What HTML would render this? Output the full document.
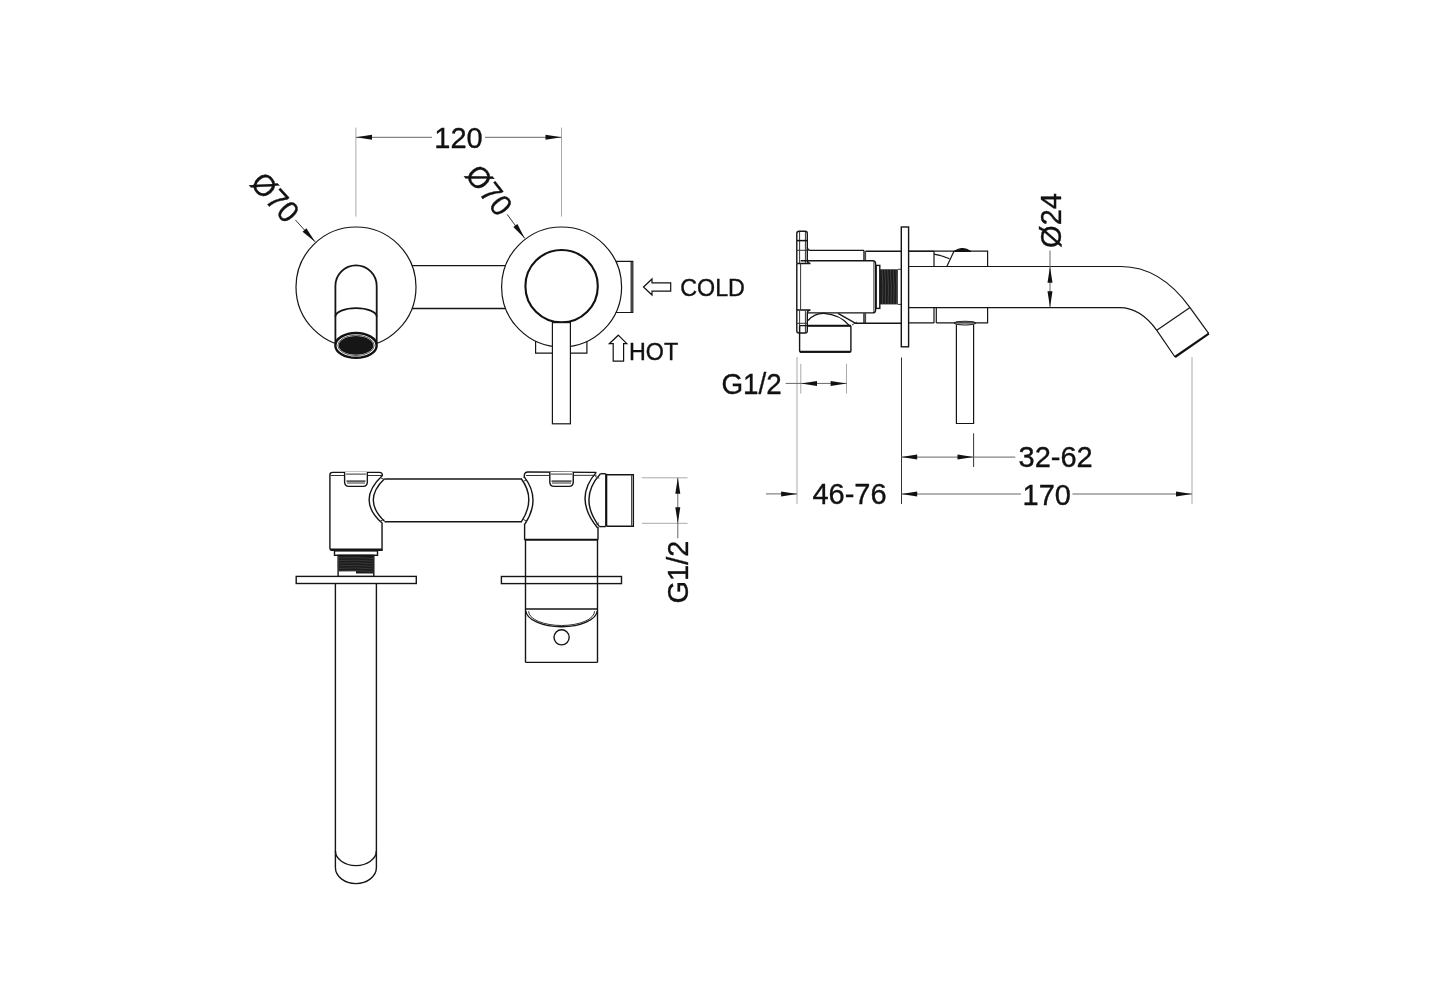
<!DOCTYPE html>
<html><head><meta charset="utf-8"><style>
html,body{margin:0;padding:0;background:#fff;width:1430px;height:1000px;overflow:hidden}
svg{display:block}
text{font-family:"Liberation Sans",sans-serif;fill:#111;stroke:#111;stroke-width:0.35}
svg{filter:grayscale(1)}
.o{stroke:#151515;stroke-width:1.4}
.c{stroke:#151515;stroke-width:1.2}
.t{stroke:#333;stroke-width:1}
.k{stroke:#333;stroke-width:1}
.dm{stroke:#666;stroke-width:1}
.d{stroke:#aaa;stroke-width:1}
</style></head><body>
<svg width="1430" height="1000" viewBox="0 0 1430 1000">
<rect width="1430" height="1000" fill="#fff"/>
<g fill="none">
<line x1="355.9" y1="127.6" x2="355.9" y2="216.6" class="d"/>
<line x1="561.5" y1="127.6" x2="561.5" y2="216.6" class="d"/>
<line x1="356" y1="137.3" x2="432" y2="137.3" class="dm"/>
<line x1="485" y1="137.3" x2="561.5" y2="137.3" class="dm"/>
<polygon points="356.0,137.3 372.0,134.8 372.0,139.8" fill="#111"/>
<polygon points="561.5,137.3 545.5,139.8 545.5,134.8" fill="#111"/>
<text x="0" y="0" font-size="29" text-anchor="middle" transform="translate(458.5,147.8) scale(1,1.04)">120</text>
<circle cx="356" cy="287" r="60" class="c"/>
<line x1="412" y1="265.6" x2="505.5" y2="265.6" class="o"/>
<line x1="412" y1="308.5" x2="505.5" y2="308.5" class="o"/>
<path d="M335.4,343 L335.4,286 A20.65,20.65 0 0 1 376.7,286 L376.7,343" class="o" style="stroke-width:1.8"/>
<path d="M335.4,316.6 A20.65,8.4 0 0 1 376.7,316.6" class="o" style="stroke-width:1.7"/>
<ellipse cx="356" cy="345.4" rx="20.65" ry="12.4" fill="#fff" stroke="#111" stroke-width="2.4"/>
<ellipse cx="356" cy="345.4" rx="18.2" ry="10.2" fill="none" stroke="#333" stroke-width="0.8"/>
<ellipse cx="356" cy="345.4" rx="17.3" ry="9.4" fill="#161616"/>
<line x1="295.4" y1="219.9" x2="315.2" y2="241.9" class="k"/>
<polygon points="315.2,241.9 302.6,231.7 306.4,228.3" fill="#111"/>
<circle cx="561.6" cy="287" r="60" class="c"/>
<path d="M615.8,261.3 L632.8,261.3 L632.8,312.5 L615.8,312.5" class="c" />
<line x1="631.2" y1="262" x2="631.2" y2="312" class="c"/>
<path d="M535.6,341 L535.6,353.2 L586.9,353.2 L586.9,341.4" class="c" />
<circle cx="561.6" cy="286.2" r="36.2" fill="none" stroke="#111" stroke-width="2.1"/>
<rect x="552.4" y="322.6" width="18" height="101.2" fill="#fff" class="c"/>
<line x1="507.2" y1="214.4" x2="524.8" y2="238.4" class="k"/>
<polygon points="524.8,238.4 513.3,227.0 517.4,224.0" fill="#111"/>
<text x="0" y="0" font-size="29" text-anchor="start" transform="translate(249,184) rotate(48) scale(1,1.04)">Ø70</text>
<text x="0" y="0" font-size="29" text-anchor="start" transform="translate(464,175) rotate(52) scale(1,1.04)">Ø70</text>
<polygon points="643.5,287 652,279 652,282.8 670.7,282.8 670.7,291.2 652,291.2 652,295" fill="none" stroke="#111" stroke-width="1.2"/>
<text x="0" y="0" font-size="23.3" text-anchor="start" transform="translate(680.2,295.6) scale(1,1.04)">COLD</text>
<polygon points="618.3,335.2 626.8,343.7 623.6,343.7 623.6,361.2 613.2,361.2 613.2,343.7 609.3,343.7" fill="none" stroke="#111" stroke-width="1.2"/>
<text x="0" y="0" font-size="23.3" text-anchor="start" transform="translate(629,359.7) scale(1,1.04)">HOT</text>
<rect x="296.2" y="576.4" width="120.1" height="7.1" fill="#fff" class="o"/>
<path d="M335.4,583.5 L335.4,867.6 A20.5,16 0 0 0 376.4,867.6 L376.4,583.5" class="o" />
<path d="M335.4,850.8 A20.5,14.8 0 0 0 376.4,850.8" class="o" />
<path d="M332.5,472.4 L379.5,472.4 Q382.4,472.4 382.4,475.5 Q356,500 382.05,523.1 L382.05,550.4 L332.5,550.4 Q329.9,550.4 329.9,548 L329.9,475 Q329.9,472.4 332.5,472.4 Z" class="o" />
<line x1="330.5" y1="475.5" x2="382" y2="475.5" class="t"/>
<line x1="330.5" y1="549.2" x2="382" y2="549.2" class="o"/>
<path d="M384.5,478.65 Q362.1,500 384.5,521.35" class="o" />
<line x1="384.5" y1="479" x2="522" y2="479" class="o"/>
<line x1="384.5" y1="521.7" x2="522" y2="521.7" class="o"/>
<path d="M344.6,472 L344.6,482 Q344.6,486.35 349,486.35 L363,486.35 Q367.35,486.35 367.35,482 L367.35,472" fill="#fff" class="o"/>
<line x1="346" y1="474.1" x2="366" y2="474.1" class="t"/>
<line x1="346.5" y1="481.1" x2="365.5" y2="481.1" stroke="#333" stroke-width="1.4"/>
<line x1="347" y1="483" x2="365" y2="483" class="t"/>
<rect x="334.5" y="550.9" width="43" height="4.4" fill="#fff" class="o"/>
<rect x="338.1" y="555.3" width="35.7" height="21" fill="#fff" class="o"/>
<rect x="338.6" y="555.8" width="34.7" height="15.5" fill="#1c1c1c"/>
<path d="M356,571 L373.3,571 L373.3,573.5 L356,573.5 Z" fill="#1c1c1c"/>
<path d="M339,558.0 Q356,556.8 373,558.6" stroke="#555" stroke-width="0.5" fill="none"/>
<path d="M339,560.6 Q356,559.4 373,561.2" stroke="#555" stroke-width="0.5" fill="none"/>
<path d="M339,563.2 Q356,562.0 373,563.8" stroke="#555" stroke-width="0.5" fill="none"/>
<path d="M339,565.8 Q356,564.6 373,566.4" stroke="#555" stroke-width="0.5" fill="none"/>
<path d="M339,568.4 Q356,567.2 373,569.0" stroke="#555" stroke-width="0.5" fill="none"/>
<path d="M339,571.0 Q356,569.8 373,571.6" stroke="#555" stroke-width="0.5" fill="none"/>
<path d="M524.25,478 L524.25,476 Q524.25,472 528,472 L596.25,472.35" class="o" />
<line x1="526" y1="475.5" x2="596.5" y2="475.3" class="t"/>
<path d="M521.45,479 Q536.15,499 521.45,521.7" class="o" />
<path d="M524.25,476.9 Q541.4,499 525,523.8" class="o" />
<line x1="524.6" y1="523.5" x2="524.6" y2="539.8" class="o"/>
<line x1="524.6" y1="539.8" x2="598" y2="539.8" stroke="#111" stroke-width="2"/>
<path d="M549.8,472 L549.8,482 Q549.8,486.35 554,486.35 L569,486.35 Q573.25,486.35 573.25,482 L573.25,472" fill="#fff" class="o"/>
<line x1="551" y1="474.1" x2="572" y2="474.1" class="t"/>
<line x1="551.5" y1="481.1" x2="571.5" y2="481.1" stroke="#333" stroke-width="1.4"/>
<line x1="552" y1="483" x2="571" y2="483" class="t"/>
<path d="M596.25,472.35 Q573.15,498.4 597.65,528" class="o" />
<path d="M600.45,473.75 Q577.9,498.4 599.4,526.6" class="o" />
<line x1="598" y1="527" x2="598" y2="539.8" class="o"/>
<line x1="595.3" y1="476.5" x2="599.3" y2="478.2" class="t"/>
<line x1="595.6" y1="524.6" x2="599" y2="522.8" class="t"/>
<line x1="523.2" y1="481.5" x2="526.4" y2="479.8" class="t"/>
<line x1="523.2" y1="519.3" x2="526.6" y2="521.2" class="t"/>
<line x1="380.6" y1="477.8" x2="384.3" y2="479.6" class="t"/>
<line x1="380.4" y1="521" x2="384.2" y2="519.4" class="t"/>
<line x1="600.45" y1="473.75" x2="605.7" y2="473.75" class="o"/>
<line x1="599.4" y1="526.6" x2="605.7" y2="526.6" class="o"/>
<line x1="606.2" y1="473.75" x2="606.2" y2="526.6" stroke="#111" stroke-width="2.2"/>
<path d="M606.75,474.8 L633.35,474.8 L633.35,526.25 L606.75,526.25" class="o" />
<line x1="631.6" y1="475.3" x2="631.6" y2="525.8" class="t"/>
<rect x="501.4" y="576.5" width="120.1" height="7.1" fill="#fff" class="o"/>
<line x1="525.5" y1="539.8" x2="525.5" y2="662.4" class="o"/>
<line x1="597.5" y1="539.8" x2="597.5" y2="662.4" class="o"/>
<line x1="525.5" y1="662.4" x2="597.5" y2="662.4" class="o"/>
<line x1="525.5" y1="609" x2="597.5" y2="609" class="o"/>
<path d="M525.8,611 A35.8,16.7 0 0 0 597.3,611" class="o" />
<path d="M528.6,611.2 A33,14.3 0 0 0 594.6,611.2" class="t" />
<circle cx="561.6" cy="637.3" r="7.6" class="o"/>
<line x1="641.8" y1="477.8" x2="687.6" y2="477.8" class="d"/>
<line x1="641.8" y1="523.3" x2="687.6" y2="523.3" class="d"/>
<line x1="677.8" y1="477.8" x2="677.8" y2="538.3" class="dm"/>
<polygon points="677.8,477.8 680.3,493.8 675.3,493.8" fill="#111"/>
<polygon points="677.8,523.3 675.3,507.3 680.3,507.3" fill="#111"/>
<text x="0" y="0" font-size="29" text-anchor="middle" transform="translate(687.6,572) rotate(-90) scale(1,1.04)">G1/2</text>
<path d="M908.6,266.5 L1121,266.5 Q1160.4,266.5 1190,307.6 L1208.8,333.6" class="c" />
<path d="M908.6,307.6 L1119.8,307.6 Q1140.4,307.6 1156.8,330.3 L1175,357" class="c" />
<line x1="1190" y1="307.6" x2="1156.8" y2="330.3" class="c"/>
<line x1="1208.8" y1="333.6" x2="1175" y2="357" stroke="#111" stroke-width="2.2"/>
<path d="M908.6,251.2 L987.6,251.2 L987.6,266.5" class="c" />
<line x1="934" y1="251.2" x2="934" y2="266.5" class="c"/>
<path d="M934,254.2 Q942,255.5 949.5,258.8" class="c" />
<path d="M946.8,266.5 L954,251.2" class="c" />
<path d="M953.6,251.5 Q958,248.6 962,248.4 Q967,248.4 971,251.5 Z" fill="#111" stroke="#111" stroke-width="1"/>
<path d="M908.6,322.9 L934,322.9 M936.3,322.9 L987.6,322.9 L987.6,307.6" class="c" />
<line x1="934" y1="307.6" x2="934" y2="322.9" class="c"/>
<line x1="936.3" y1="307.6" x2="936.3" y2="322.9" class="c"/>
<path d="M956.4,324.4 L956.4,423.5 L973.6,423.5 L973.6,324.4" class="c" />
<ellipse cx="965" cy="323.1" rx="10.6" ry="1.9" fill="none" stroke="#151515" stroke-width="1.1"/>
<path d="M796.8,263.5 L796.8,233.5 Q796.8,231.3 799,231.3 L805.3,231.3 Q807.3,231.3 807.3,233.5 L807.3,260.6 Q807.6,263.5 810.5,263.5 L796.8,263.5" class="o" />
<line x1="799.6" y1="232" x2="799.6" y2="263" class="t"/>
<line x1="805.4" y1="232" x2="805.4" y2="263" class="t"/>
<line x1="797" y1="240.6" x2="807" y2="240.6" stroke="#111" stroke-width="1.5"/>
<line x1="797" y1="250.3" x2="807" y2="250.3" class="t"/>
<path d="M796.8,310 L796.8,330.8 Q796.8,333 799,333 L805.3,333 Q807.3,333 807.3,330.8 L807.3,313 Q807.6,310 810.5,310 L796.8,310" class="o" />
<line x1="799.6" y1="310.5" x2="799.6" y2="332.5" class="t"/>
<line x1="805.4" y1="310.5" x2="805.4" y2="332.5" class="t"/>
<line x1="797" y1="323.3" x2="807" y2="323.3" class="t"/>
<path d="M807.3,247.5 Q807.6,250.4 810.5,250.4 L864,250.4" class="o" />
<line x1="865.6" y1="251.3" x2="901.2" y2="251.3" class="o"/>
<line x1="864" y1="250.4" x2="864" y2="261" class="o"/>
<line x1="865.6" y1="251" x2="865.6" y2="261" class="t"/>
<line x1="864" y1="313.2" x2="864" y2="323.3" class="o"/>
<line x1="865.6" y1="313.2" x2="865.6" y2="323.3" class="t"/>
<path d="M800.6,260.8 L872.6,260.8 Q875.6,260.8 875.6,263.8 L875.6,309.9 Q875.6,312.9 872.6,312.9 L808,312.9" class="o" />
<line x1="796.8" y1="263.5" x2="796.8" y2="310" class="o"/>
<line x1="800.6" y1="263.5" x2="800.6" y2="310" class="t"/>
<line x1="873.9" y1="262" x2="873.9" y2="312" class="t"/>
<rect x="876.2" y="265.4" width="3.6" height="43" fill="#fff" class="o"/>
<rect x="879.8" y="269.3" width="18" height="35.1" fill="#1c1c1c"/>
<path d="M882.0,270 Q883.5,287 882.5,304" stroke="#666" stroke-width="0.5" fill="none"/>
<path d="M884.8,270 Q886.3,287 885.3,304" stroke="#666" stroke-width="0.5" fill="none"/>
<path d="M887.6,270 Q889.1,287 888.1,304" stroke="#666" stroke-width="0.5" fill="none"/>
<path d="M890.4,270 Q891.9,287 890.9,304" stroke="#666" stroke-width="0.5" fill="none"/>
<path d="M893.2,270 Q894.7,287 893.7,304" stroke="#666" stroke-width="0.5" fill="none"/>
<path d="M896.0,270 Q897.5,287 896.5,304" stroke="#666" stroke-width="0.5" fill="none"/>
<path d="M897.8,269.3 L901.2,269.3 M897.8,304.4 L901.2,304.4" class="t" />
<line x1="901.5" y1="266.6" x2="901.5" y2="307.5" class="t"/>
<rect x="799.6" y="325.6" width="51.3" height="26.4" rx="1" class="o"/>
<line x1="807" y1="325.8" x2="850.9" y2="325.8" stroke="#111" stroke-width="2"/>
<line x1="800" y1="351.8" x2="850.5" y2="351.8" stroke="#111" stroke-width="2"/>
<path d="M808,320.4 Q815,313 824,313.4 Q840,314.5 849.4,325.6" class="o" />
<path d="M838,313.4 L855.6,323.3 L901.2,323.3" class="o" />
<path d="M852,325 L857,322" class="t" />
<rect x="901.3" y="227" width="7.3" height="119.8" fill="#fff" class="o"/>
<line x1="908.6" y1="251.3" x2="934" y2="251.3" class="c"/>
<line x1="1050" y1="250.6" x2="1050" y2="307.3" class="dm"/>
<polygon points="1050.0,266.7 1052.5,282.7 1047.5,282.7" fill="#111"/>
<polygon points="1050.0,307.3 1047.5,291.3 1052.5,291.3" fill="#111"/>
<text x="0" y="0" font-size="29" text-anchor="middle" transform="translate(1061.3,220.5) rotate(-90) scale(1,1.04)">Ø24</text>
<line x1="797" y1="357" x2="797" y2="504" class="d"/>
<line x1="800.8" y1="363.8" x2="800.8" y2="393.6" class="d"/>
<line x1="846.5" y1="363.8" x2="846.5" y2="393.6" class="d"/>
<line x1="901.5" y1="357.5" x2="901.5" y2="504" class="k"/>
<line x1="973.6" y1="433.3" x2="973.6" y2="467" class="k"/>
<line x1="1192" y1="357" x2="1192" y2="504" class="d"/>
<line x1="785.7" y1="383.4" x2="846.6" y2="383.4" class="dm"/>
<polygon points="801.0,383.4 817.0,380.9 817.0,385.9" fill="#111"/>
<polygon points="846.6,383.4 830.6,385.9 830.6,380.9" fill="#111"/>
<text x="0" y="0" font-size="29" text-anchor="end" transform="translate(781.8,394.1) scale(0.96,1.04)">G1/2</text>
<line x1="766" y1="493.9" x2="797" y2="493.9" class="dm"/>
<polygon points="797.1,493.9 781.1,496.4 781.1,491.4" fill="#111"/>
<text x="0" y="0" font-size="29" text-anchor="middle" transform="translate(849.5,504.1) scale(1,1.04)">46-76</text>
<line x1="901.2" y1="457.1" x2="1015.3" y2="457.1" class="dm"/>
<polygon points="901.2,457.1 917.2,454.6 917.2,459.6" fill="#111"/>
<polygon points="973.5,457.1 957.5,459.6 957.5,454.6" fill="#111"/>
<text x="0" y="0" font-size="29" text-anchor="middle" transform="translate(1055.6,466.7) scale(1,1.04)">32-62</text>
<line x1="901.2" y1="494" x2="1020.9" y2="494" class="dm"/>
<line x1="1072.4" y1="494" x2="1192" y2="494" class="dm"/>
<polygon points="901.2,494.0 917.2,491.5 917.2,496.5" fill="#111"/>
<polygon points="1192.0,494.0 1176.0,496.5 1176.0,491.5" fill="#111"/>
<text x="0" y="0" font-size="29" text-anchor="middle" transform="translate(1046.7,504.7) scale(1,1.04)">170</text>
</g>
</svg></body></html>
